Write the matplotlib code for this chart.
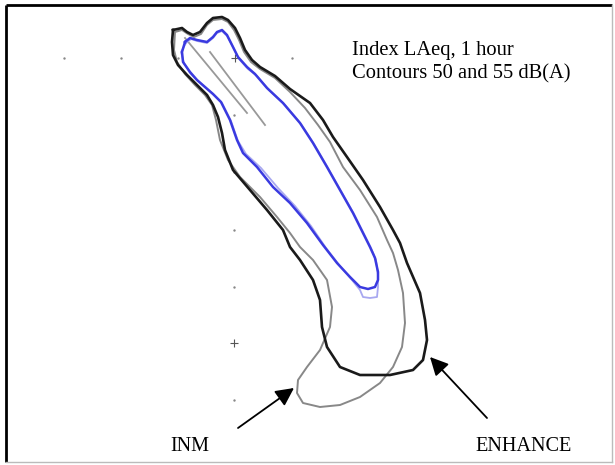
import matplotlib
matplotlib.use("Agg")
import matplotlib.pyplot as plt

# ENHANCE 50 dB(A) contour (black), image coordinates
enh50_x = [173, 182, 187, 193, 200, 207, 213, 222, 228, 235, 240, 245, 252, 260, 275, 290, 310, 323, 333, 347,
           363, 380, 393, 400, 407, 420, 425, 427, 423, 413, 390, 360, 340, 327, 322, 320, 313, 300, 290, 283,
           267, 250, 233, 225, 222, 218, 213, 207, 197, 187, 178, 173, 172, 173]
enh50_y = [30, 28, 32, 35, 32, 23, 18, 17, 20, 28, 38, 50, 60, 67, 76, 89, 103, 120, 137, 157,
           180, 207, 230, 243, 263, 293, 320, 340, 360, 370, 375, 375, 367, 347, 327, 300, 280, 260, 247, 230,
           210, 190, 170, 150, 133, 117, 105, 95, 85, 75, 65, 55, 42, 30]

# INM 50 dB(A) contour (grey)
inm50_x = [175, 182, 188, 194, 201, 207, 213, 222, 228, 234, 239, 244, 251, 260, 275, 290, 305, 318, 330, 343,
           360, 377, 387, 393, 398, 403, 405, 402, 393, 380, 360, 340, 320, 303, 297, 298, 307, 320, 330, 332,
           327, 313, 300, 290, 277, 260, 240, 228, 220, 216, 212, 205, 195, 185, 177, 174, 175]
inm50_y = [32, 30, 34, 37, 34, 25, 20, 19, 22, 30, 40, 52, 62, 69, 78, 92, 108, 125, 142, 167,
           190, 217, 240, 253, 270, 293, 323, 347, 367, 383, 397, 405, 407, 403, 393, 380, 367, 350, 327, 307,
           280, 260, 247, 233, 217, 197, 177, 160, 140, 120, 105, 95, 85, 74, 62, 50, 32]

# ENHANCE 55 dB(A) contour (blue)
enh55_x = [185, 190, 197, 207, 213, 217, 222, 227, 232, 238, 247, 255, 267, 283, 300, 313, 327, 340, 353, 363,
           370, 375, 378, 378, 375, 368, 360, 350, 337, 323, 307, 290, 273, 257, 243, 237, 230, 221, 213, 205,
           197, 190, 183, 182, 185]
enh55_y = [42, 38, 40, 42, 37, 32, 30, 35, 45, 57, 67, 74, 88, 103, 123, 143, 167, 190, 213, 233,
           247, 258, 272, 280, 287, 289, 287, 277, 263, 245, 223, 203, 187, 167, 153, 140, 120, 102, 94, 87,
           80, 72, 62, 52, 42]

# INM 55 dB(A) contour (light blue)
inm55_x = [186, 191, 197, 207, 213, 217, 222, 227, 233, 239, 248, 257, 269, 285, 301, 314, 328, 341, 354, 364,
           371, 376, 378, 378, 377, 370, 363, 360, 352, 340, 326, 311, 295, 278, 261, 246, 238, 231, 222, 214, 206,
           198, 190, 184, 181, 186]
inm55_y = [43, 39, 41, 43, 38, 33, 31, 36, 47, 59, 69, 76, 90, 105, 124, 144, 168, 191, 214, 234,
           248, 260, 275, 287, 297, 298, 297, 290, 280, 266, 248, 226, 206, 188, 168, 154, 141, 121, 103, 95, 88,
           81, 73, 63, 52, 43]

# Runway / track lines
track_x = [[185, 247], [210, 265]]
track_y = [[38, 113], [52, 125]]

# Grid reference points
dot_x = [64, 121, 178, 292, 234, 234, 234, 234, 234]
dot_y = [58, 58, 58, 58, 115, 172, 230, 287, 400]
cross_x = [235, 234]
cross_y = [58, 343]

title_lines = ["Index LAeq, 1 hour", "Contours 50 and 55 dB(A)"]
label_inm = "INM"
label_enh = "ENHANCE"

fig = plt.figure(figsize=(6.15, 4.65), dpi=100)
ax = fig.add_axes([0, 0, 1, 1])
ax.set_xlim(0, 615)
ax.set_ylim(465, 0)
ax.axis("off")

# frame
ax.plot([6, 6], [5, 462], color="black", lw=2.0, solid_capstyle="butt")
ax.plot([6, 612], [5, 5], color="black", lw=2.0, solid_capstyle="butt")
ax.plot([612, 612], [5, 462], color="#bbbbbb", lw=1.0)
ax.plot([6, 612], [462, 462], color="#bbbbbb", lw=1.0)

# grid markers
ax.scatter(dot_x, dot_y, s=3, color="#888888", zorder=1, linewidths=0)
ax.scatter(cross_x, cross_y, s=40, marker="+", color="#555555", linewidths=0.8, zorder=1)

# tracks
for tx, ty in zip(track_x, track_y):
    ax.plot(tx, ty, color="#999999", lw=1.3, zorder=2)

ax.plot(inm50_x, inm50_y, color="#888888", lw=1.4, zorder=3)
ax.plot(enh50_x, enh50_y, color="#1a1a1a", lw=1.9, zorder=4)
ax.plot(inm55_x, inm55_y, color="#a8a8f0", lw=1.3, zorder=5)
ax.plot(enh55_x, enh55_y, color="#3a3ae0", lw=1.8, zorder=6)

serif = ["Liberation Serif", "DejaVu Serif"]
ax.text(352, 55, title_lines[0], fontsize=14.8, family=serif, va="baseline", ha="left")
ax.text(352, 78, title_lines[1], fontsize=14.8, family=serif, va="baseline", ha="left")
ax.text(190, 451, label_inm, fontsize=14.6, family=serif, va="baseline", ha="center")
ax.text(524, 451, label_enh, fontsize=14.6, family=serif, va="baseline", ha="center")

arrow_style = dict(arrowstyle="-|>,head_length=1.1,head_width=0.55", color="black", lw=1.3, shrinkA=0, shrinkB=0)
ax.annotate("", xy=(294, 388), xytext=(238, 428), arrowprops=arrow_style)
ax.annotate("", xy=(430, 357), xytext=(487, 418), arrowprops=arrow_style)

fig.savefig("out.png", dpi=100)
